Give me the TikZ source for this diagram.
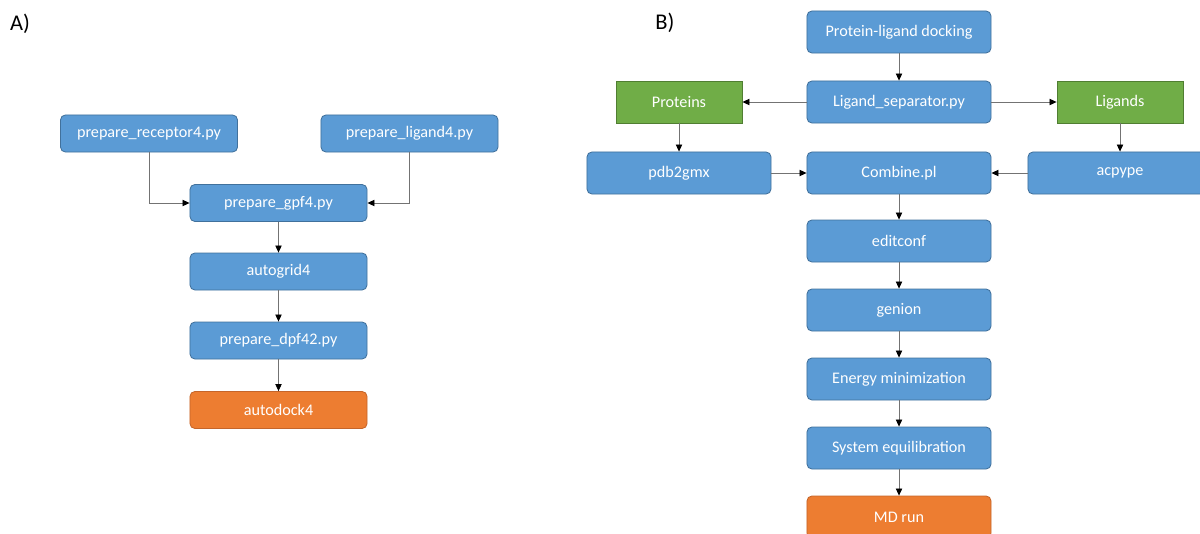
\documentclass[tikz,border=0pt]{standalone}
\usepackage{fontspec}
\setmainfont{Carlito}
\usetikzlibrary{arrows.meta}
\definecolor{boxblue}{HTML}{5B9BD5}
\definecolor{lineblue}{HTML}{41719C}
\definecolor{boxgreen}{HTML}{70AD47}
\definecolor{linegreen}{HTML}{507E32}
\definecolor{boxorange}{HTML}{ED7D31}
\definecolor{lineorange}{HTML}{C5652A}

\begin{document}
\begin{tikzpicture}[x=0.025cm,y=-0.025cm,
	box/.style={draw=lineblue, fill=boxblue, text=white, rounded corners=3.5pt, line width=0.6pt, inner sep=0pt, font=\fontsize{11.5}{13}\selectfont},
	boxA/.style={box, minimum width=4.425cm, minimum height=0.925cm},
	boxB/.style={box, minimum width=4.6cm, minimum height=1.05cm},
	grn/.style={box, draw=linegreen, fill=boxgreen, rounded corners=0pt, minimum width=3.15cm, minimum height=1.05cm},
	last/.style={draw=lineorange, fill=boxorange},
	arr/.style={draw=black!55, line width=0.6pt, -{Triangle[length=5pt,width=4.5pt,color=black]}},
	panel/.style={font=\fontsize{16}{18}\selectfont}]
	\useasboundingbox (0,0) rectangle (1200,533);

	% A) AutoDock
	\node[panel] (la) at (20,24) {A)};
	\node[boxA] (rec) at (149,133.5) {prepare\_receptor4.py};
	\node[boxA] (lig) at (409.5,133.5) {prepare\_ligand4.py};
	\node[boxA] (gpf) at (278.5,203) {prepare\_gpf4.py};
	\node[boxA] (grid) at (278.5,271.5) {autogrid4};
	\node[boxA] (dpf) at (278.5,340.5) {prepare\_dpf42.py};
	\node[boxA, last] (dock) at (278.5,410) {autodock4};

	\draw[arr] (rec) |- (gpf);
	\draw[arr] (lig) |- (gpf);
	\draw[arr] (gpf) -- (grid);
	\draw[arr] (grid) -- (dpf);
	\draw[arr] (dpf) -- (dock);

	% B) GROMACS
	\node[panel] (lb) at (665,23) {B)};
	\node[boxB] (pld) at (899,32) {Protein-ligand docking};
	\node[boxB] (sep) at (899,102) {Ligand\_separator.py};
	\node[grn] (prot) at (679,102) {Proteins};
	\node[grn] (ligs) at (1120,102) {Ligands};
	\node[boxB] (pdb) at (679,173) {pdb2gmx};
	\node[boxB] (comb) at (899,173) {Combine.pl};
	\node[boxB] (acp) at (1120,173) {acpype};
	\node[boxB] (edit) at (899,241) {editconf};
	\node[boxB] (gen) at (899,310) {genion};
	\node[boxB] (emin) at (899,379) {Energy minimization};
	\node[boxB] (equi) at (899,448) {System equilibration};
	\node[boxB, last] (md) at (899,517) {MD run};

	\draw[arr] (pld) -- (sep);
	\draw[arr] (sep) -- (prot);
	\draw[arr] (sep) -- (ligs);
	\draw[arr] (prot) -- (pdb);
	\draw[arr] (ligs) -- (acp);
	\draw[arr] (pdb) -- (comb);
	\draw[arr] (acp) -- (comb);
	\draw[arr] (comb) -- (edit);
	\draw[arr] (edit) -- (gen);
	\draw[arr] (gen) -- (emin);
	\draw[arr] (emin) -- (equi);
	\draw[arr] (equi) -- (md);
\end{tikzpicture}
\end{document}
